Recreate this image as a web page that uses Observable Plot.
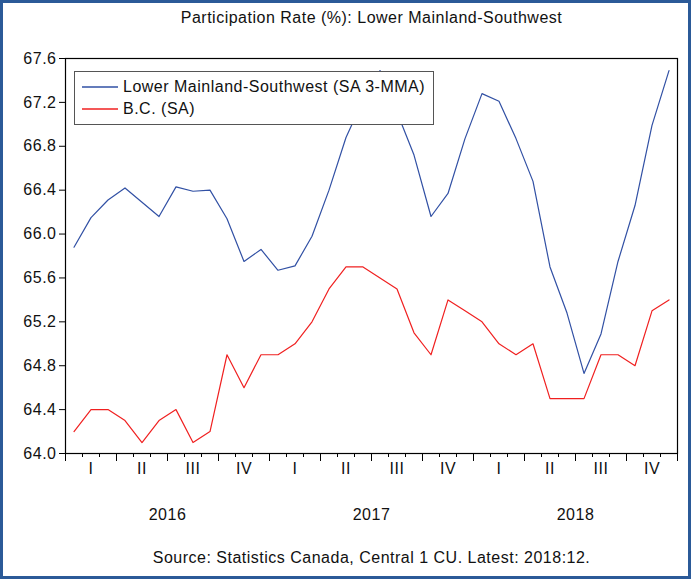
<!DOCTYPE html>
<html>
<head>
<meta charset="utf-8">
<script src="https://cdn.jsdelivr.net/npm/d3@7"></script>
<script src="https://cdn.jsdelivr.net/npm/@observablehq/plot@0.6"></script>
<style>
  html, body { margin: 0; padding: 0; background: #fff; }
  #wrap { position: relative; width: 691px; height: 579px; overflow: hidden; font-family: "Liberation Sans", Arial, sans-serif; }
  #wrap svg text { letter-spacing: 0.5px; }
  #border { position: absolute; left: 0; top: 0; width: 691px; height: 579px; box-sizing: border-box; border: 3px solid #2b5a98; pointer-events: none; }
  #legend { position: absolute; left: 74px; top: 71px; width: 360px; height: 54px; box-sizing: border-box; border: 1.5px solid #555; background: #fff; font-size: 16px; letter-spacing: 0.5px; color: #111; }
  .row { position: absolute; left: 7px; display: flex; align-items: center; white-space: nowrap; }
  .row svg { margin-right: 5px; }
</style>
</head>
<body>
<div id="wrap"></div>
<script>
const months = ["2016:01","2016:02","2016:03","2016:04","2016:05","2016:06","2016:07","2016:08","2016:09","2016:10","2016:11","2016:12",
                "2017:01","2017:02","2017:03","2017:04","2017:05","2017:06","2017:07","2017:08","2017:09","2017:10","2017:11","2017:12",
                "2018:01","2018:02","2018:03","2018:04","2018:05","2018:06","2018:07","2018:08","2018:09","2018:10","2018:11","2018:12"];
const lowerMainland = [65.88,66.15,66.31,66.42,66.29,66.16,66.43,66.39,66.40,66.14,65.75,65.86,
                       65.67,65.71,65.98,66.40,66.88,67.22,67.49,67.11,66.72,66.16,66.37,66.87,
                       67.28,67.21,66.87,66.48,65.70,65.28,64.73,65.09,65.75,66.26,66.99,67.49];
const bc = [64.2,64.4,64.4,64.3,64.1,64.3,64.4,64.1,64.2,64.9,64.6,64.9,
            64.9,65.0,65.2,65.5,65.7,65.7,65.6,65.5,65.1,64.9,65.4,65.3,
            65.2,65.0,64.9,65.0,64.5,64.5,64.5,64.9,64.9,64.8,65.3,65.4];
const seriesNames = ["Lower Mainland-Southwest (SA 3-MMA)", "B.C. (SA)"];
const seriesColors = ["#3150a4", "#f02020"];
const yTicks = [64.0,64.4,64.8,65.2,65.6,66.0,66.4,66.8,67.2,67.6];
const quarterLabels = ["I","II","III","IV","I","II","III","IV","I","II","III","IV"];
const yearLabels = ["2016","2017","2018"];
const titleText = "Participation Rate (%): Lower Mainland-Southwest";
const sourceText = "Source: Statistics Canada, Central 1 CU. Latest: 2018:12.";

const rows = [];
months.forEach((m, i) => {
  rows.push({month: m, i, value: lowerMainland[i], series: seriesNames[0]});
  rows.push({month: m, i, value: bc[i], series: seriesNames[1]});
});
const monthEdges = d3.range(months.length + 1).map(k => k - 0.5);
const quarterEdges = monthEdges.filter((d, k) => k % 3 === 0);
const quarters = quarterLabels.map((q, k) => ({label: q, pos: k * 3 + 1}));
const years = yearLabels.map((y, k) => ({label: y, pos: k * 12 + 5.5}));

const chart = Plot.plot({
  width: 691,
  height: 579,
  marginLeft: 65,
  marginRight: 14,
  marginTop: 58,
  marginBottom: 126,
  style: {fontFamily: '"Liberation Sans", Arial, sans-serif', fontSize: "16px", color: "#111", background: "transparent"},
  x: {type: "linear", domain: [-0.5, months.length - 0.5], axis: null},
  y: {domain: [64.0, 67.6], axis: null},
  color: {domain: seriesNames, range: seriesColors},
  marks: [
    Plot.axisY({ticks: yTicks, tickFormat: d => d.toFixed(1), tickSize: 6, tickPadding: 3, fontSize: 16, label: null, stroke: "#000"}),
    Plot.axisX({ticks: monthEdges, tickSize: 4, tickFormat: () => "", label: null, stroke: "#000"}),
    Plot.axisX({ticks: quarterEdges, tickSize: 8, tickFormat: () => "", label: null, stroke: "#000"}),
    Plot.line(rows, {x: "i", y: "value", z: "series", stroke: "series", strokeWidth: 1.2}),
    Plot.frame({stroke: "#000", strokeWidth: 1.2}),
    Plot.text(quarters, {x: "pos", text: "label", frameAnchor: "bottom", dy: 15, lineAnchor: "middle", fontSize: 16}),
    Plot.text(years, {x: "pos", text: "label", frameAnchor: "bottom", dy: 61, lineAnchor: "middle", fontSize: 16}),
    Plot.text([sourceText], {text: d => d, frameAnchor: "bottom", dy: 104, lineAnchor: "middle", fontSize: 16}),
    Plot.text([titleText], {text: d => d, frameAnchor: "top", dy: -41, lineAnchor: "middle", fontSize: 16})
  ]
});

const wrap = document.getElementById("wrap");
chart.style.position = "absolute";
chart.style.left = "0";
chart.style.top = "0";
wrap.appendChild(chart);

const legend = document.createElement("div");
legend.id = "legend";
seriesNames.forEach((name, k) => {
  const row = document.createElement("div");
  row.className = "row";
  row.style.top = (k === 0 ? 6 : 28) + "px";
  const svgNS = "http://www.w3.org/2000/svg";
  const sw = document.createElementNS(svgNS, "svg");
  sw.setAttribute("width", "36");
  sw.setAttribute("height", "4");
  const ln = document.createElementNS(svgNS, "line");
  ln.setAttribute("x1", "0"); ln.setAttribute("x2", "36");
  ln.setAttribute("y1", "2"); ln.setAttribute("y2", "2");
  ln.setAttribute("stroke", seriesColors[k]);
  ln.setAttribute("stroke-width", "1.3");
  sw.appendChild(ln);
  const label = document.createElement("span");
  label.textContent = name;
  row.appendChild(sw);
  row.appendChild(label);
  legend.appendChild(row);
});
wrap.appendChild(legend);

const border = document.createElement("div");
border.id = "border";
wrap.appendChild(border);
</script>
</body>
</html>
